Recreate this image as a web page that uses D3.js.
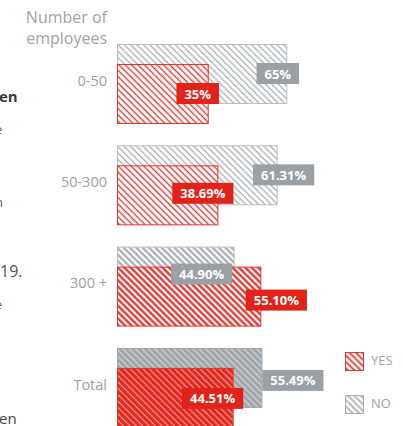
<!DOCTYPE html>
<html>
<head>
<meta charset="utf-8">
<script src="https://cdn.jsdelivr.net/npm/d3@7"></script>
<style>
  html, body { margin: 0; padding: 0; background: #fff; }
  svg { display: block; font-family: "Open Sans", "Noto Sans", sans-serif; }
</style>
</head>
<body>
<svg id="chart" width="403" height="426"></svg>
<script>
// Share of companies answering YES / NO, by number of employees
const categories = ["0-50", "50-300", "300 +", "Total"];
const yesValues = [35, 38.69, 55.10, 44.51];
const noValues = [65, 61.31, 44.90, 55.49];
const yesLabels = ["35%", "38.69%", "55.10%", "44.51%"];
const noLabels = ["65%", "61.31%", "44.90%", "55.49%"];
const seriesNames = ["YES", "NO"];
const axisTitle = ["Number of", "employees"];

const svg = d3.select("#chart");

const colors = {
  YES: { line: "#e3342c", fill: "#e2261e", light: "#f39d95", box: "#e2231a" },
  NO:  { line: "#a9aeb3", fill: "#a1a6ab", light: "#d3d6d9", box: "#9ba0a5" }
};
// hatch treatment per employee band
const hatchKind = ["thin", "thin", "bold", "solid"];

const x = d3.scaleLinear().domain([0, 100]).range([117, 117 + 262]);
const y = d3.scaleBand().domain(categories)
  .range([44, 44 + 3 * 101.3 + 80]).paddingInner(1 - 80 / 101.3).paddingOuter(0);
const barH = y.bandwidth() * 0.75;
const yesOffset = y.bandwidth() * 0.25;

// hatch patterns
const defs = svg.append("defs");
function hatch(id, series, kind) {
  const c = colors[series];
  const p = defs.append("pattern").attr("id", id)
    .attr("patternUnits", "userSpaceOnUse")
    .attr("width", 4.5).attr("height", 4.5)
    .attr("patternTransform", "rotate(-45)");
  const solid = kind === "solid";
  p.append("rect").attr("width", 4.5).attr("height", 4.5)
    .attr("fill", solid ? c.fill : "#fff");
  p.append("line").attr("x1", 2.25).attr("x2", 2.25).attr("y1", -1).attr("y2", 6)
    .attr("stroke", solid ? c.light : c.line)
    .attr("stroke-width", kind === "thin" ? 1.35 : kind === "bold" ? 2.3 : kind === "legend" ? 1.8 : 1.2);
}
seriesNames.forEach(s => ["thin", "bold", "solid", "legend"].forEach(k => hatch(`h-${s}-${k}`, s, k)));

// cut-off text of the neighbouring column
const side = svg.append("g").attr("fill", "#3a3a3a");
side.append("text").attr("x", -1).attr("y", 102).attr("font-size", 15).attr("font-weight", 700).text("en");
side.append("text").attr("x", -5).attr("y", 134).attr("font-size", 13).attr("fill", "#666").text("e");
side.append("text").attr("x", -5).attr("y", 207).attr("font-size", 13).attr("fill", "#555").text("n");
side.append("text").attr("x", 0).attr("y", 277).attr("font-size", 16).attr("fill", "#555").text("19.");
side.append("text").attr("x", -5).attr("y", 309).attr("font-size", 13).attr("fill", "#777").text("e");
side.append("text").attr("x", -1).attr("y", 424).attr("font-size", 15).attr("fill", "#444").text("en");

// axis title
const title = svg.append("text").attr("text-anchor", "end").attr("fill", "#a3a3a3").attr("font-size", 16);
axisTitle.forEach((t, i) => title.append("tspan").attr("x", 107).attr("y", 23 + i * 21).text(t));

// category labels
svg.append("g").selectAll("text").data(categories).join("text")
  .attr("x", 107).attr("y", d => y(d) + 38)
  .attr("text-anchor", "end").attr("dominant-baseline", "middle")
  .attr("fill", "#a0a0a0").attr("font-size", 14.5)
  .text(d => d);

const rows = categories.map((c, i) => ({
  cat: c, kind: hatchKind[i],
  no: noValues[i], yes: yesValues[i], noLabel: noLabels[i], yesLabel: yesLabels[i]
}));

// NO bars, then YES bars on top
const bars = svg.append("g");
bars.selectAll("rect.no").data(rows).join("rect").attr("class", "no")
  .attr("x", x(0) + 0.5).attr("y", d => y(d.cat) + 0.5)
  .attr("width", d => x(d.no) - x(0) - 1).attr("height", barH - 1)
  .attr("fill", d => `url(#h-NO-${d.kind})`)
  .attr("stroke", d => d.kind === "solid" ? colors.NO.fill : "#b9bdc1").attr("stroke-width", 1);
bars.selectAll("rect.yes").data(rows).join("rect").attr("class", "yes")
  .attr("x", x(0) + 0.5).attr("y", d => y(d.cat) + yesOffset + 0.5)
  .attr("width", d => x(d.yes) - x(0) - 1).attr("height", barH - 1)
  .attr("fill", d => `url(#h-YES-${d.kind})`)
  .attr("stroke", colors.YES.line).attr("stroke-width", 1);

// value tags: [centre shift from bar end, top offset within band]
const tagPlace = {
  NO:  [[-9.5, 19], [6, 19], [-33, 17], [30.5, 22]],
  YES: [[-11, 39], [-15.5, 37.5], [15, 43], [-21, 40]]
};
const tags = svg.append("g");
rows.forEach((d, i) => {
  [["NO", d.no, d.noLabel], ["YES", d.yes, d.yesLabel]].forEach(([s, v, lab]) => {
    const [dx, dy] = tagPlace[s][i];
    const g = tags.append("g");
    const t = g.append("text")
      .attr("text-anchor", "middle").attr("dominant-baseline", "central")
      .attr("fill", "#fff").attr("font-size", 13).attr("font-weight", 700)
      .attr("x", x(v) + dx).attr("y", y(d.cat) + dy + 10.5)
      .text(lab);
    const w = t.node().getComputedTextLength() + 16;
    g.insert("rect", "text")
      .attr("x", x(v) + dx - w / 2).attr("y", y(d.cat) + dy)
      .attr("width", w).attr("height", 21)
      .attr("fill", colors[s].box);
  });
});

// legend
const legend = svg.append("g");
seriesNames.forEach((s, i) => {
  const ly = 352 + i * 43;
  legend.append("rect").attr("x", 345.5).attr("y", ly + 0.5).attr("width", 18).attr("height", 18)
    .attr("fill", `url(#h-${s}-legend)`).attr("stroke", colors[s].line);
  legend.append("text").attr("x", 371).attr("y", ly + 10)
    .attr("dominant-baseline", "middle").attr("fill", "#a3a3a3").attr("font-size", 13)
    .text(s);
});
</script>
</body>
</html>
